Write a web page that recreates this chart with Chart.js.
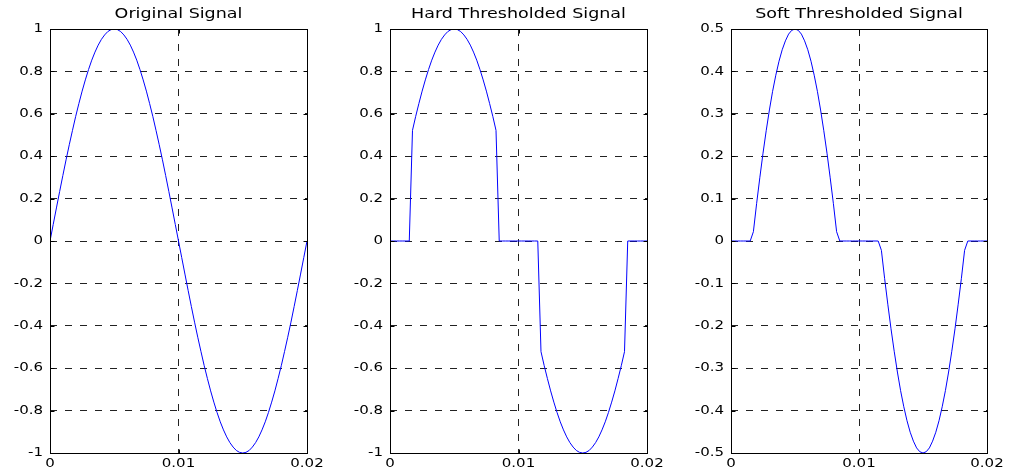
<!DOCTYPE html>
<html>
<head>
<meta charset="utf-8">
<script src="https://cdn.jsdelivr.net/npm/chart.js@4.4.1/dist/chart.umd.min.js"></script>
<style>
  html, body { margin: 0; padding: 0; background: #fff; }
  #wrap { position: relative; width: 1011px; height: 472px; background: #fff; }
  canvas { position: absolute; top: 0; }
</style>
</head>
<body>
<div id="wrap">
  <canvas id="c1" width="340" height="472" style="left:0px"></canvas>
  <canvas id="c2" width="340" height="472" style="left:340px"></canvas>
  <canvas id="c3" width="331" height="472" style="left:680px"></canvas>
</div>
<script>
// ---- data ----
const timeValues = [
  0, 0.00025, 0.0005, 0.00075, 0.001, 0.00125, 0.0015, 0.00175, 0.002, 0.00225,
  0.0025, 0.00275, 0.003, 0.00325, 0.0035, 0.00375, 0.004, 0.00425, 0.0045, 0.00475,
  0.005, 0.00525, 0.0055, 0.00575, 0.006, 0.00625, 0.0065, 0.00675, 0.007, 0.00725,
  0.0075, 0.00775, 0.008, 0.00825, 0.0085, 0.00875, 0.009, 0.00925, 0.0095, 0.00975,
  0.01, 0.01025, 0.0105, 0.01075, 0.011, 0.01125, 0.0115, 0.01175, 0.012, 0.01225,
  0.0125, 0.01275, 0.013, 0.01325, 0.0135, 0.01375, 0.014, 0.01425, 0.0145, 0.01475,
  0.015, 0.01525, 0.0155, 0.01575, 0.016, 0.01625, 0.0165, 0.01675, 0.017, 0.01725,
  0.0175, 0.01775, 0.018, 0.01825, 0.0185, 0.01875, 0.019, 0.01925, 0.0195, 0.01975,
  0.02
];
const originalSignal = [
  0, 0.078, 0.156, 0.233, 0.309, 0.383, 0.454, 0.522, 0.588, 0.649,
  0.707, 0.760, 0.809, 0.853, 0.891, 0.924, 0.951, 0.972, 0.988, 0.997,
  1, 0.997, 0.988, 0.972, 0.951, 0.924, 0.891, 0.853, 0.809, 0.760,
  0.707, 0.649, 0.588, 0.522, 0.454, 0.383, 0.309, 0.233, 0.156, 0.078,
  0, -0.078, -0.156, -0.233, -0.309, -0.383, -0.454, -0.522, -0.588, -0.649,
  -0.707, -0.760, -0.809, -0.853, -0.891, -0.924, -0.951, -0.972, -0.988, -0.997,
  -1, -0.997, -0.988, -0.972, -0.951, -0.924, -0.891, -0.853, -0.809, -0.760,
  -0.707, -0.649, -0.588, -0.522, -0.454, -0.383, -0.309, -0.233, -0.156, -0.078,
  0
];
const hardSignal = [
  0, 0, 0, 0, 0, 0, 0, 0.522, 0.588, 0.649,
  0.707, 0.760, 0.809, 0.853, 0.891, 0.924, 0.951, 0.972, 0.988, 0.997,
  1, 0.997, 0.988, 0.972, 0.951, 0.924, 0.891, 0.853, 0.809, 0.760,
  0.707, 0.649, 0.588, 0.522, 0, 0, 0, 0, 0, 0,
  0, 0, 0, 0, 0, 0, 0, -0.522, -0.588, -0.649,
  -0.707, -0.760, -0.809, -0.853, -0.891, -0.924, -0.951, -0.972, -0.988, -0.997,
  -1, -0.997, -0.988, -0.972, -0.951, -0.924, -0.891, -0.853, -0.809, -0.760,
  -0.707, -0.649, -0.588, -0.522, 0, 0, 0, 0, 0, 0,
  0
];
const softSignal = [
  0, 0, 0, 0, 0, 0, 0, 0.022, 0.088, 0.149,
  0.207, 0.260, 0.309, 0.353, 0.391, 0.424, 0.451, 0.472, 0.488, 0.497,
  0.5, 0.497, 0.488, 0.472, 0.451, 0.424, 0.391, 0.353, 0.309, 0.260,
  0.207, 0.149, 0.088, 0.022, 0, 0, 0, 0, 0, 0,
  0, 0, 0, 0, 0, 0, 0, -0.022, -0.088, -0.149,
  -0.207, -0.260, -0.309, -0.353, -0.391, -0.424, -0.451, -0.472, -0.488, -0.497,
  -0.5, -0.497, -0.488, -0.472, -0.451, -0.424, -0.391, -0.353, -0.309, -0.260,
  -0.207, -0.149, -0.088, -0.022, 0, 0, 0, 0, 0, 0,
  0
];
const xTickValues = [0, 0.01, 0.02];
const xTickLabels = ['0', '0.01', '0.02'];
const yTickValuesFull = [-1, -0.8, -0.6, -0.4, -0.2, 0, 0.2, 0.4, 0.6, 0.8, 1];
const yTickLabelsFull = ['-1', '-0.8', '-0.6', '-0.4', '-0.2', '0', '0.2', '0.4', '0.6', '0.8', '1'];
const yTickValuesSoft = [-0.5, -0.4, -0.3, -0.2, -0.1, 0, 0.1, 0.2, 0.3, 0.4, 0.5];
const yTickLabelsSoft = ['-0.5', '-0.4', '-0.3', '-0.2', '-0.1', '0', '0.1', '0.2', '0.3', '0.4', '0.5'];
const plotTitles = ['Original Signal', 'Hard Thresholded Signal', 'Soft Thresholded Signal'];

// ---- styling helpers ----
const FONT = 'DejaVu Sans';
const TEXT_STRETCH = 1.25; // reference text is horizontally widened

const stretchPlugin = {
  id: 'stretch',
  beforeInit(chart) {
    const ctx = chart.ctx;
    if (ctx.__stretched) return;
    const orig = ctx.fillText.bind(ctx);
    ctx.fillText = function (text, x, y, maxWidth) {
      ctx.save();
      ctx.translate(x, y);
      ctx.scale(TEXT_STRETCH, 1);
      if (maxWidth === undefined || maxWidth === null) orig(text, 0, 0);
      else orig(text, 0, 0, maxWidth / TEXT_STRETCH);
      ctx.restore();
    };
    ctx.__stretched = true;
  }
};

const axesBoxPlugin = {
  id: 'axesBox',
  afterDraw(chart) {
    const { ctx, chartArea: a, scales } = chart;
    ctx.save();
    ctx.strokeStyle = '#000';
    ctx.lineWidth = 1;
    const l = Math.round(a.left) + 0.5, r = Math.round(a.right) + 0.5;
    const t = Math.round(a.top) + 0.5, b = Math.round(a.bottom) + 0.5;
    ctx.strokeRect(l, t, r - l, b - t);
    const L = 4;
    ctx.beginPath();
    scales.y.ticks.forEach(tk => {
      const y = Math.round(scales.y.getPixelForValue(tk.value)) + 0.5;
      ctx.moveTo(l, y); ctx.lineTo(l + L, y);
      ctx.moveTo(r, y); ctx.lineTo(r - L, y);
    });
    scales.x.ticks.forEach(tk => {
      const x = Math.round(scales.x.getPixelForValue(tk.value)) + 0.5;
      ctx.moveTo(x, b); ctx.lineTo(x, b - L);
      ctx.moveTo(x, t); ctx.lineTo(x, t + L);
    });
    ctx.stroke();
    ctx.restore();
  }
};

function makeChart(id, title, values, yVals, yLabels, yMin, yMax, yWidth, padRight) {
  const pts = timeValues.map((t, i) => ({ x: t, y: values[i] }));
  const gridColor = (ctx) => {
    const v = ctx.tick ? ctx.tick.value : null;
    const s = ctx.scale;
    if (v === null || Math.abs(v - s.min) < 1e-9 || Math.abs(v - s.max) < 1e-9) return 'rgba(0,0,0,0)';
    return '#222';
  };
  return new Chart(document.getElementById(id), {
    type: 'line',
    data: {
      datasets: [{
        data: pts,
        borderColor: '#0000ff',
        borderWidth: 1,
        pointRadius: 0,
        tension: 0,
        fill: false
      }]
    },
    options: {
      responsive: false,
      animation: false,
      devicePixelRatio: 1,
      layout: { padding: { left: 0, right: padRight, top: 0, bottom: 0 } },
      plugins: {
        legend: { display: false },
        tooltip: { enabled: false },
        title: {
          display: true,
          text: title,
          fullSize: false,
          align: 'center',
          color: '#000',
          font: { family: FONT, size: 14, weight: 'normal', lineHeight: 1.2 },
          padding: { top: 6, bottom: 6.2 }
        }
      },
      scales: {
        x: {
          type: 'linear',
          min: 0, max: 0.02,
          afterBuildTicks: s => { s.ticks = xTickValues.map(v => ({ value: v })); },
          afterFit: s => { s.height = 19; },
          ticks: {
            callback: v => xTickLabels[xTickValues.indexOf(v)],
            font: { family: FONT, size: 12 },
            color: '#000',
            padding: 4,
            maxRotation: 0,
            autoSkip: false
          },
          grid: { color: gridColor, drawTicks: false, lineWidth: 1 },
          border: { display: false, dash: [7, 8] }
        },
        y: {
          type: 'linear',
          min: yMin, max: yMax,
          afterBuildTicks: s => { s.ticks = yVals.map(v => ({ value: v })); },
          afterFit: s => { s.width = yWidth; },
          ticks: {
            callback: v => yLabels[yVals.indexOf(v)],
            font: { family: FONT, size: 12 },
            color: '#000',
            padding: 7,
            autoSkip: false
          },
          grid: { color: gridColor, drawTicks: false, lineWidth: 1 },
          border: { display: false, dash: [7, 8] }
        }
      }
    },
    plugins: [stretchPlugin, axesBoxPlugin]
  });
}

makeChart('c1', plotTitles[0], originalSignal, yTickValuesFull, yTickLabelsFull, -1, 1, 50, 33);
makeChart('c2', plotTitles[1], hardSignal, yTickValuesFull, yTickLabelsFull, -1, 1, 50, 33);
makeChart('c3', plotTitles[2], softSignal, yTickValuesSoft, yTickLabelsSoft, -0.5, 0.5, 51, 24);
</script>
</body>
</html>
